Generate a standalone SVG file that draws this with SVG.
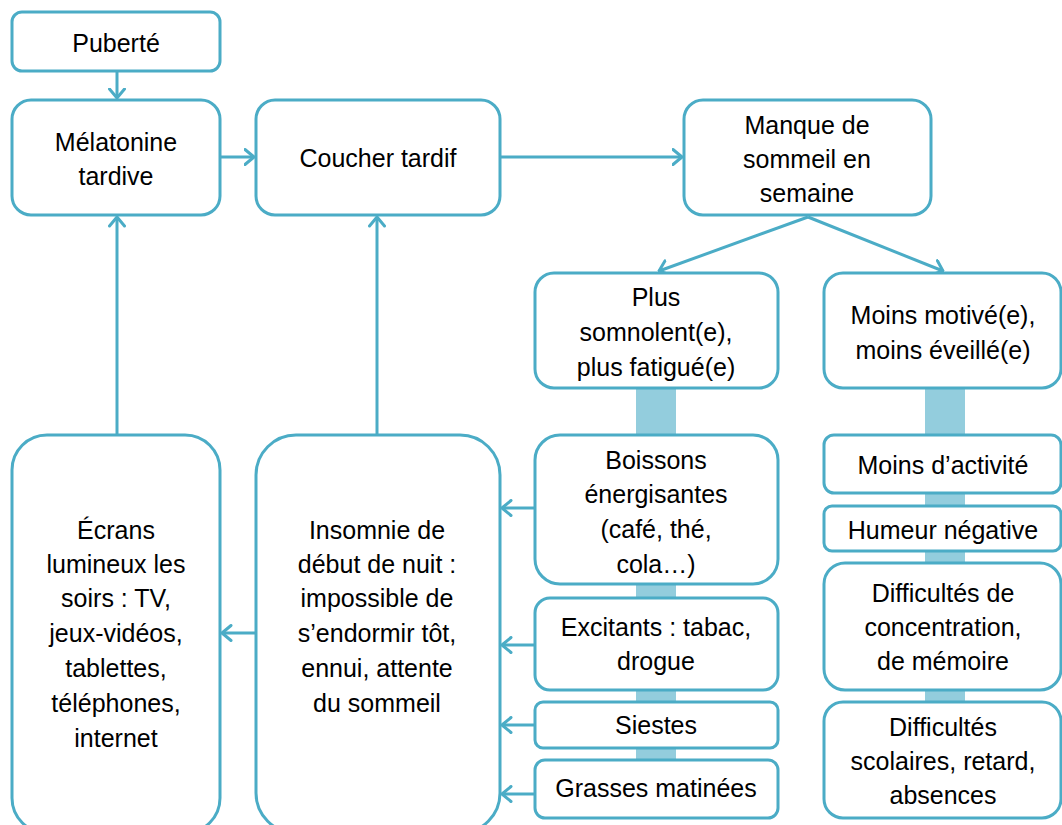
<svg xmlns="http://www.w3.org/2000/svg" width="1062" height="825" viewBox="0 0 1062 825">
<style>
.box{fill:#fff;stroke:#4BACC6;stroke-width:3}
.bar{fill:#93CDDD}
.t{font-family:"Liberation Sans",Arial,sans-serif;font-size:25px;fill:#000;text-anchor:middle}
.c{stroke:#4BACC6;stroke-width:3;fill:none}
</style>
<defs>
<marker id="arr" viewBox="0 0 12 18" refX="10.5" refY="9" markerWidth="12" markerHeight="18" markerUnits="userSpaceOnUse" orient="auto">
<path d="M1.5,1.5 L10.5,9 L1.5,16.5" fill="none" stroke="#4BACC6" stroke-width="3" stroke-linecap="round" stroke-linejoin="round"/>
</marker>
</defs>
<rect class="bar" x="636" y="388" width="40" height="410"/>
<rect class="bar" x="925" y="388" width="40" height="410"/>
<g id="connectors">
<line class="c" x1="117" y1="72" x2="117" y2="98" marker-end="url(#arr)"/>
<line class="c" x1="221" y1="157" x2="254" y2="157" marker-end="url(#arr)"/>
<line class="c" x1="501" y1="157" x2="682" y2="157" marker-end="url(#arr)"/>
<line class="c" x1="117" y1="434" x2="117" y2="217" marker-end="url(#arr)"/>
<line class="c" x1="377" y1="434" x2="377" y2="217" marker-end="url(#arr)"/>
<line class="c" x1="808" y1="217" x2="659" y2="271" marker-end="url(#arr)"/>
<line class="c" x1="808" y1="217" x2="943" y2="271" marker-end="url(#arr)"/>
<line class="c" x1="255" y1="633" x2="222" y2="633" marker-end="url(#arr)"/>
<line class="c" x1="534" y1="508" x2="502" y2="508" marker-end="url(#arr)"/>
<line class="c" x1="534" y1="645" x2="502" y2="645" marker-end="url(#arr)"/>
<line class="c" x1="534" y1="725" x2="502" y2="725" marker-end="url(#arr)"/>
<line class="c" x1="534" y1="794" x2="502" y2="794" marker-end="url(#arr)"/>
</g>
<g id="puberte"><rect class="box" x="12" y="12" width="208" height="59" rx="10"/><text class="t" x="116" y="52">Puberté</text></g>
<g id="melatonine"><rect class="box" x="12" y="100" width="208" height="115" rx="19"/><text class="t" x="116" y="151">Mélatonine</text><text class="t" x="116" y="185">tardive</text></g>
<g id="coucher"><rect class="box" x="256" y="100" width="244" height="115" rx="19"/><text class="t" x="378" y="167">Coucher tardif</text></g>
<g id="manque"><rect class="box" x="684" y="100" width="247" height="115" rx="19"/><text class="t" x="807" y="134">Manque de</text><text class="t" x="807" y="168">sommeil en</text><text class="t" x="807" y="202">semaine</text></g>
<g id="plus"><rect class="box" x="535" y="273" width="243" height="115" rx="19"/><text class="t" x="656" y="306">Plus</text><text class="t" x="656" y="341">somnolent(e),</text><text class="t" x="656" y="376">plus fatigué(e)</text></g>
<g id="moins"><rect class="box" x="824" y="273" width="237" height="115" rx="19"/><text class="t" x="943" y="324">Moins motivé(e),</text><text class="t" x="943" y="359">moins éveillé(e)</text></g>
<g id="boissons"><rect class="box" x="535" y="435" width="243" height="149" rx="25"/><text class="t" x="656" y="469">Boissons</text><text class="t" x="656" y="503">énergisantes</text><text class="t" x="656" y="538">(café, thé,</text><text class="t" x="656" y="573">cola…)</text></g>
<g id="excitants"><rect class="box" x="535" y="598" width="243" height="92" rx="15"/><text class="t" x="656" y="636">Excitants : tabac,</text><text class="t" x="656" y="670">drogue</text></g>
<g id="siestes"><rect class="box" x="535" y="702" width="243" height="46" rx="8"/><text class="t" x="656" y="734">Siestes</text></g>
<g id="grasses"><rect class="box" x="535" y="760" width="243" height="58" rx="10"/><text class="t" x="656" y="797">Grasses matinées</text></g>
<g id="activite"><rect class="box" x="824" y="435" width="237" height="58" rx="10"/><text class="t" x="943" y="474">Moins d’activité</text></g>
<g id="humeur"><rect class="box" x="824" y="506" width="237" height="45" rx="8"/><text class="t" x="943" y="539">Humeur négative</text></g>
<g id="concentration"><rect class="box" x="824" y="563" width="237" height="127" rx="21"/><text class="t" x="943" y="602">Difficultés de</text><text class="t" x="943" y="636">concentration,</text><text class="t" x="943" y="670">de mémoire</text></g>
<g id="scolaires"><rect class="box" x="824" y="702" width="237" height="116" rx="19"/><text class="t" x="943" y="736">Difficultés</text><text class="t" x="943" y="770">scolaires, retard,</text><text class="t" x="943" y="804">absences</text></g>
<g id="ecrans"><rect class="box" x="12" y="435" width="208" height="398" rx="35"/><text class="t" x="116" y="539">Écrans</text><text class="t" x="116" y="573">lumineux les</text><text class="t" x="116" y="607">soirs  : TV,</text><text class="t" x="116" y="642">jeux-vidéos,</text><text class="t" x="116" y="677">tablettes,</text><text class="t" x="116" y="712">téléphones,</text><text class="t" x="116" y="747">internet</text></g>
<g id="insomnie"><rect class="box" x="256" y="435" width="244" height="398" rx="40"/><text class="t" x="377" y="539">Insomnie de</text><text class="t" x="377" y="573">début de nuit :</text><text class="t" x="377" y="607">impossible de</text><text class="t" x="377" y="642">s’endormir tôt,</text><text class="t" x="377" y="677">ennui, attente</text><text class="t" x="377" y="712">du sommeil</text></g>
</svg>
